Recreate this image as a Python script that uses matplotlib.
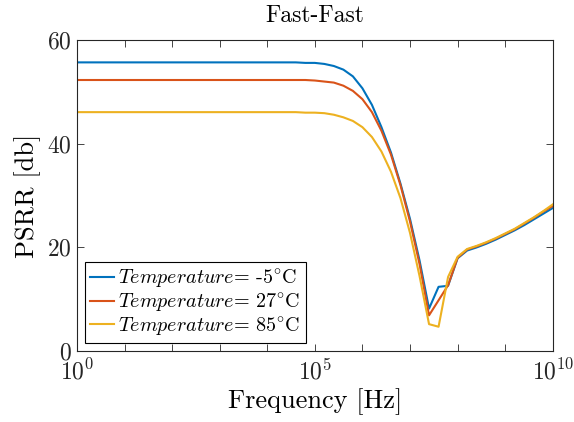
import matplotlib
matplotlib.use("Agg")
import matplotlib.pyplot as plt
import matplotlib.ticker as mticker
import numpy as np

# log10 of frequency, 5 points per decade
log_f = [0.0, 0.2, 0.4, 0.6, 0.8, 1.0, 1.2, 1.4, 1.6, 1.8, 2.0, 2.2, 2.4, 2.6, 2.8,
         3.0, 3.2, 3.4, 3.6, 3.8, 4.0, 4.2, 4.4, 4.6, 4.8, 5.0, 5.2, 5.4, 5.6, 5.8,
         6.0, 6.2, 6.4, 6.6, 6.8, 7.0, 7.2, 7.4, 7.6, 7.8, 8.0, 8.2, 8.4, 8.6, 8.8,
         9.0, 9.2, 9.4, 9.6, 9.8, 10.0]

psrr_m5 = [55.7] * 23 + [55.7, 55.6, 55.6, 55.4, 55.0, 54.3, 53.0,
                         50.7, 47.5, 43.2, 38.3, 32.3, 25.5, 17.5, 8.2, 12.4, 12.6,
                         17.9, 19.4, 20.0, 20.7, 21.5, 22.4, 23.3, 24.3, 25.4, 26.5, 27.6]
psrr_27 = [52.3] * 23 + [52.3, 52.3, 52.2, 52.0, 51.8, 51.2, 50.2,
                         48.6, 46.1, 42.5, 37.9, 32.0, 25.0, 16.8, 6.9, 9.8, 12.7,
                         18.0, 19.6, 20.2, 20.9, 21.7, 22.6, 23.5, 24.6, 25.7, 26.9, 28.0]
psrr_85 = [46.1] * 23 + [46.1, 46.0, 46.0, 45.9, 45.6, 45.1, 44.4,
                         43.2, 41.3, 38.5, 34.6, 29.5, 22.8, 14.5, 5.2, 4.7, 14.3,
                         18.2, 19.7, 20.3, 21.0, 21.8, 22.7, 23.6, 24.7, 25.8, 27.0, 28.3]

labels = [r'$Temperature$= -5$^{\circ}$C',
          r'$Temperature$= 27$^{\circ}$C',
          r'$Temperature$= 85$^{\circ}$C']
colors = ['#0072BD', '#D95319', '#EDB120']

plt.rcParams['font.family'] = ['cmr10', 'DejaVu Serif']
plt.rcParams['mathtext.fontset'] = 'cm'
plt.rcParams['axes.formatter.use_mathtext'] = True
plt.rcParams['axes.unicode_minus'] = False

fig = plt.figure(figsize=(5.74, 4.22), dpi=100)
ax = fig.add_axes([0.134, 0.168, 0.829, 0.737])

freq = 10.0 ** np.array(log_f)
for y, c, lab in zip([psrr_m5, psrr_27, psrr_85], colors, labels):
    ax.plot(freq, y, color=c, linewidth=1.5, label=lab)

ax.set_xscale('log')
ax.set_xlim(1, 1e10)
ax.set_ylim(0, 60)
ax.xaxis.set_major_locator(mticker.FixedLocator([1e0, 1e5, 1e10]))
ax.xaxis.set_major_formatter(mticker.LogFormatterMathtext())
ax.xaxis.set_minor_locator(mticker.FixedLocator([10.0 ** k for k in range(11)]))
ax.xaxis.set_minor_formatter(mticker.NullFormatter())
ax.set_yticks([0, 20, 40, 60])

ax.tick_params(which='both', direction='in', top=True, right=True,
               labelsize=17, colors='#262626', width=0.6)
ax.tick_params(which='major', length=5)
ax.tick_params(which='minor', length=5)
ax.tick_params(axis='x', pad=5.5)
ax.tick_params(axis='y', pad=4)
for sp in ax.spines.values():
    sp.set_linewidth(0.8)
    sp.set_color('#262626')

ax.set_title('Fast-Fast', fontsize=17, pad=13)
ax.set_xlabel('Frequency [Hz]', fontsize=19, labelpad=3)
ax.set_ylabel('PSRR [db]', fontsize=19, labelpad=4)

leg = ax.legend(loc='lower left', fontsize=14.5, frameon=True, fancybox=False,
                edgecolor='black', framealpha=1, handlelength=1.2,
                handletextpad=0.2, borderpad=0.25, labelspacing=0.05,
                borderaxespad=0.4)
leg.get_frame().set_linewidth(0.8)

fig.savefig('out.png', dpi=100)
